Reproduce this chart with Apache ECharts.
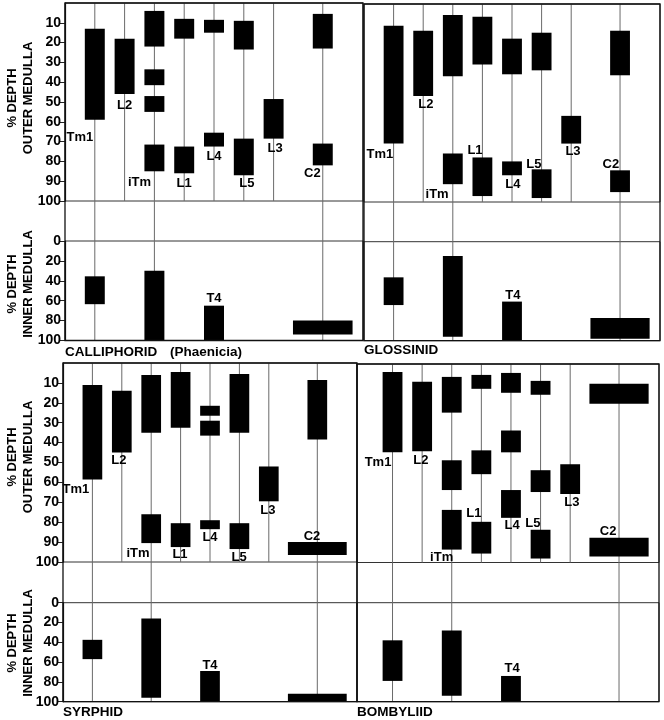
<!DOCTYPE html>
<html>
<head>
<meta charset="utf-8">
<script src="https://cdn.jsdelivr.net/npm/echarts@6/dist/echarts.min.js"></script>
<style>html,body{margin:0;padding:0;background:#fff;}#c{width:664px;height:720px;}</style>
</head>
<body>
<div id="c"></div>
<script>
// ---------- DATA ----------
const cellTypes = ['Tm1', 'L2', 'iTm', 'L1', 'L4', 'L5', 'L3', 'C2'];
const columnX = [1, 2, 3, 4, 5, 6, 7, 8.65];          // column positions on the x scale
const innerCell = 'T4';
const innerLineColumns = [0, 2, 7];                     // columns whose lines reach the inner medulla
const outerTickLabels = [10, 20, 30, 40, 50, 60, 70, 80, 90, 100];
const innerTickLabels = [0, 20, 40, 60, 80, 100];

// [column index, top % depth, bottom % depth, wide?]
const calliphoridOuter = [
  [0, 13, 59], [1, 18, 46],
  [2, 4, 22], [2, 33.5, 41.5], [2, 47, 55], [2, 71.5, 85],
  [3, 8, 18], [3, 72.5, 86],
  [4, 8.5, 15], [4, 65.5, 72.5],
  [5, 9, 23.5], [5, 68.5, 87],
  [6, 48.5, 68.5],
  [7, 5.5, 23], [7, 71, 82]
];
const calliphoridInner = [[0, 35.5, 63.5], [2, 30, 100], [4, 65, 100], [7, 80, 94, 1]];

const glossinidOuter = [
  [0, 11, 70.5], [1, 13.5, 46.5],
  [2, 5.5, 36.5], [2, 75.5, 91],
  [3, 6.5, 30.5], [3, 77.5, 97],
  [4, 17.5, 35.5], [4, 79.5, 86.5],
  [5, 14.5, 33.5], [5, 83.5, 98],
  [6, 56.5, 70.5],
  [7, 13.5, 36], [7, 84, 95]
];
const glossinidInner = [[0, 36, 64], [2, 14.5, 96], [4, 60.5, 100], [7, 77, 98, 1]];

const syrphidOuter = [
  [0, 11, 58.5], [1, 14, 45],
  [2, 6, 35], [2, 76, 90.5],
  [3, 4.5, 32.5], [3, 80.5, 92.5],
  [4, 21.5, 26.5], [4, 29, 36.5], [4, 79, 83.5],
  [5, 5.5, 35], [5, 80.5, 93.5],
  [6, 52, 69.5],
  [7, 8.5, 38.5], [7, 90, 96.5, 1]
];
const syrphidInner = [[0, 37.5, 57], [2, 16, 96], [4, 69, 100], [7, 92, 100, 1]];

const bombyliidOuter = [
  [0, 4, 44.5], [1, 9, 44],
  [2, 6.5, 24.5], [2, 48.5, 63.5], [2, 73.5, 93.5],
  [3, 5.5, 12.5], [3, 43.5, 55.5], [3, 79.5, 95.5],
  [4, 4.5, 14.5], [4, 33.5, 44.5], [4, 63.5, 77.5],
  [5, 8.5, 15.5], [5, 53.5, 64.5], [5, 83.5, 98],
  [6, 50.5, 65.5],
  [7, 10, 20, 1], [7, 87.5, 97, 1]
];
const bombyliidInner = [[0, 38, 79], [2, 28, 94], [4, 74, 100]];

// ---------- LAYOUT ----------
const FONT = '"Liberation Sans", Arial, Helvetica, sans-serif';
const NARROW = 0.67, WIDE = 2;
const panels = [
  { title: 'CALLIPHORID', sub: '(Phaenicia)', titleY: 345, subX: 170,
    outer: calliphoridOuter, inner: calliphoridInner, axes: true,
    left: 65, width: 298, oTop: 3, oH: 198, iTop: 241, iH: 99.5, xMin: 0, xMax: 10,
    labels: [[0.5, 67.7], [2.0, 51.5], [2.5, 90.4], [4.0, 90.9], [5.0, 77.3], [6.1, 90.9], [7.05, 73.2], [8.3, 85.9]],
    t4: [5.0, 57.6], oName: 98, iName: 284 },
  { title: 'GLOSSINID', titleY: 343,
    outer: glossinidOuter, inner: glossinidInner, axes: false,
    left: 364, width: 296, oTop: 4, oH: 198, iTop: 241.7, iH: 99, xMin: 0, xMax: 10,
    labels: [[0.54, 75.8], [2.09, 50.5], [2.47, 96], [3.75, 74.2], [5.03, 90.9], [5.74, 80.8], [7.06, 74.7], [8.34, 80.8]],
    t4: [5.03, 53.8] },
  { title: 'SYRPHID', titleY: 705,
    outer: syrphidOuter, inner: syrphidInner, axes: true,
    left: 63, width: 294, oTop: 363, oH: 199, iTop: 602.7, iH: 99, xMin: 0, xMax: 10,
    labels: [[0.44, 63.3], [1.9, 49.2], [2.55, 95.5], [3.98, 96], [5.0, 87.9], [5.99, 97.5], [6.97, 73.9], [8.47, 86.9]],
    t4: [5.0, 63.6], oName: 457, iName: 643 },
  { title: 'BOMBYLIID', titleY: 705,
    outer: bombyliidOuter, inner: bombyliidInner, axes: false,
    left: 357, width: 302, oTop: 364, oH: 198.5, iTop: 602.7, iH: 99, xMin: -0.2, xMax: 10,
    labels: [[0.51, 49.7], [1.96, 48.7], [2.66, 97.5], [3.75, 75.4], [5.04, 81.4], [5.74, 80.3], [7.06, 69.7], [8.28, 84.3]],
    t4: [5.04, 66] }
];

const grids = [], xAxes = [], yAxes = [], series = [], titles = [], graphics = [];

function lineSeries(gi, cols, yFrom) {
  return {
    type: 'custom', xAxisIndex: gi, yAxisIndex: gi, z: 1, silent: true,
    data: cols.map(c => [columnX[c]]),
    renderItem: (params, api) => {
      const a = api.coord([api.value(0), yFrom]);
      const b = api.coord([api.value(0), 100]);
      return { type: 'line', shape: { x1: a[0], y1: a[1], x2: b[0], y2: b[1] },
               style: { stroke: '#6a6a6a', lineWidth: 1 } };
    }
  };
}
function barSeries(gi, rows) {
  return {
    type: 'custom', xAxisIndex: gi, yAxisIndex: gi, z: 3, silent: true,
    data: rows.map(r => [columnX[r[0]], r[1], r[2]]),
    renderItem: (params, api) => {
      const w = rows[params.dataIndex][3] ? WIDE : NARROW;
      const x = api.value(0);
      const p0 = api.coord([x - w / 2, api.value(1)]);
      const p1 = api.coord([x + w / 2, api.value(2)]);
      return { type: 'rect', shape: { x: p0[0], y: p0[1], width: p1[0] - p0[0], height: p1[1] - p0[1] },
               style: { fill: '#000' } };
    }
  };
}
function labelSeries(gi, items) {
  return {
    type: 'custom', xAxisIndex: gi, yAxisIndex: gi, z: 4, silent: true,
    data: items.map(it => [it[0], it[1]]),
    renderItem: (params, api) => {
      const p = api.coord([api.value(0), api.value(1)]);
      return { type: 'text', x: p[0], y: p[1],
               style: { text: items[params.dataIndex][2], align: 'center', verticalAlign: 'middle',
                        font: 'bold 13px ' + FONT, fill: '#000' } };
    }
  };
}

panels.forEach((p, i) => {
  const go = 2 * i, gi = 2 * i + 1;
  grids.push({ left: p.left, top: p.oTop, width: p.width, height: p.oH, show: true, borderColor: '#333', borderWidth: 1 });
  grids.push({ left: p.left, top: p.iTop, width: p.width, height: p.iH, show: true, borderColor: '#333', borderWidth: 1 });
  [go, gi].forEach(g => xAxes.push({ type: 'value', gridIndex: g, min: p.xMin, max: p.xMax, show: false }));
  [[go, 10, outerTickLabels], [gi, 20, innerTickLabels]].forEach(([g, step, ticks]) => {
    yAxes.push({
      type: 'value', gridIndex: g, min: 0, max: 100, interval: step, inverse: true,
      splitLine: { show: false },
      axisLine: { show: p.axes, lineStyle: { color: '#111', width: 1.2 } },
      axisTick: { show: p.axes, length: 5, customValues: ticks, lineStyle: { color: '#222' } },
      axisLabel: { show: p.axes, customValues: ticks, margin: 4, color: '#000',
                   fontWeight: 'bold', fontSize: 14, fontFamily: FONT,
                   padding: [0, 0, 4, 0],
                   formatter: v => (ticks.indexOf(v) >= 0 ? String(v) : '') }
    });
  });
  const allCols = cellTypes.map((_, k) => k);
  series.push(lineSeries(go, allCols, 0));
  series.push(barSeries(go, p.outer));
  series.push(labelSeries(go, p.labels.map((l, k) => [l[0], l[1], cellTypes[k]])));
  const gapDepth = -((p.iTop - (p.oTop + p.oH)) / p.iH) * 100;
  series.push(lineSeries(gi, innerLineColumns, gapDepth));
  series.push(barSeries(gi, p.inner));
  series.push(labelSeries(gi, [[p.t4[0], p.t4[1], innerCell]]));

  titles.push({ text: p.title, left: p.left, top: p.titleY, padding: 0,
                textStyle: { fontSize: 13.5, fontWeight: 'bold', color: '#000', fontFamily: FONT } });
  if (p.sub) titles.push({ text: p.sub, left: p.subX, top: p.titleY, padding: 0,
                textStyle: { fontSize: 13.5, fontWeight: 'bold', color: '#000', fontFamily: FONT } });

  graphics.push({ type: 'rect', silent: true, z: 10,
    shape: { x: p.left, y: p.oTop, width: p.width, height: p.iTop + p.iH - p.oTop },
    style: { fill: 'none', stroke: '#111', lineWidth: 1.3 } });
  if (p.axes) {
    graphics.push({ type: 'text', x: 20, y: p.oName, rotation: Math.PI / 2, silent: true,
      style: { text: '% DEPTH\nOUTER MEDULLA', align: 'center', verticalAlign: 'middle',
               font: 'bold 13px ' + FONT, fill: '#000', lineHeight: 16 } });
    graphics.push({ type: 'text', x: 20, y: p.iName, rotation: Math.PI / 2, silent: true,
      style: { text: '% DEPTH\nINNER MEDULLA', align: 'center', verticalAlign: 'middle',
               font: 'bold 13px ' + FONT, fill: '#000', lineHeight: 16 } });
  }
});

const chart = echarts.init(document.getElementById('c'), null, { renderer: 'canvas' });
chart.setOption({
  animation: false,
  backgroundColor: '#fff',
  title: titles,
  grid: grids,
  xAxis: xAxes,
  yAxis: yAxes,
  series: series,
  graphic: graphics
});
</script>
</body>
</html>
